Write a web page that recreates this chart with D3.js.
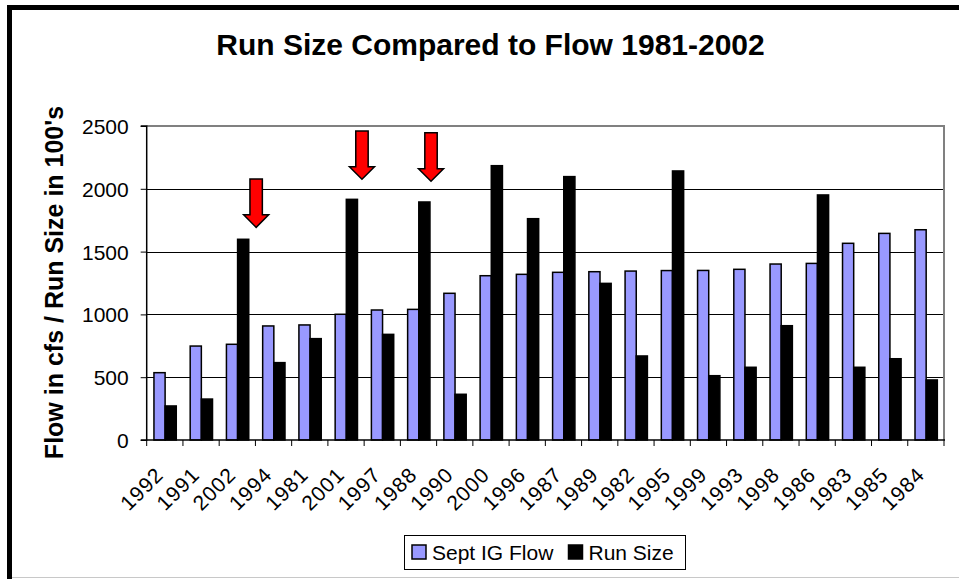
<!DOCTYPE html>
<html><head><meta charset="utf-8">
<script src="https://cdn.jsdelivr.net/npm/d3@7"></script>
<style>html,body{margin:0;padding:0;background:#fff;}svg{display:block;font-family:"Liberation Sans",Arial,sans-serif;}</style>
</head><body>
<svg id="chart" width="959" height="579"></svg>
<script>
const categories = ["1992","1991","2002","1994","1981","2001","1997","1988","1990","2000","1996","1987","1989","1982","1995","1999","1993","1998","1986","1983","1985","1984"];
const flowValues = [536,748,762,908,916,1001,1035,1040,1168,1308,1319,1335,1340,1345,1349,1350,1359,1401,1406,1566,1645,1674];
const runValues  = [271,326,1598,616,807,1916,841,1895,364,2184,1762,2097,1247,669,2142,512,579,910,1951,579,647,478];
const seriesNames = ["Sept IG Flow","Run Size"];
const yTicks = [0,500,1000,1500,2000,2500];
const arrowCats = ["2002","2001","1988"];
const arrowTips = [1693,2076,2060];
const arrowTops = [2078,2460,2446];
const arrowPos = [1.02,0.94,0.845];

const W = 959, H = 579;
const svg = d3.select("#chart");
const m = {l:146.7, r:944, t:126, b:440};
const colors = {"Sept IG Flow":"#9999FF","Run Size":"#000000"};

// frame
svg.append("rect").attr("x",0).attr("y",0).attr("width",W).attr("height",H).attr("fill","#fff");
svg.append("line").attr("x1",12).attr("x2",W).attr("y1",577.5).attr("y2",577.5).attr("stroke","#c8c8c8").attr("stroke-width",1);
svg.append("rect").attr("x",7).attr("y",5).attr("width",5).attr("height",H-5).attr("fill","#000");
svg.append("rect").attr("x",7).attr("y",5).attr("width",W-7).attr("height",5).attr("fill","#000");

const x = d3.scaleBand().domain(categories).range([m.l, m.r]).padding(0);
const bw = x.bandwidth();
const xs = d3.scaleBand().domain(seriesNames).range([bw*0.2, bw*0.816]).padding(0);
const y = d3.scaleLinear().domain([0,2500]).range([m.b, m.t]);

// gridlines
svg.append("g").selectAll("line").data(yTicks.filter(d=>d>0 && d<2500)).join("line")
  .attr("x1",m.l).attr("x2",m.r).attr("y1",d=>Math.round(y(d))+0.5).attr("y2",d=>Math.round(y(d))+0.5)
  .attr("stroke","#000").attr("stroke-width",1);
// plot border top/right grey
svg.append("path").attr("d",`M${m.l},${y(2500)}H${m.r}V${m.b}`).attr("fill","none").attr("stroke","#808080").attr("stroke-width",2);

// bars
const data = categories.map((c,i)=>({c, vals:[{s:"Sept IG Flow",v:flowValues[i]},{s:"Run Size",v:runValues[i]}]}));
const g = svg.append("g").selectAll("g").data(data).join("g").attr("transform",d=>`translate(${x(d.c)},0)`);
g.selectAll("rect").data(d=>d.vals).join("rect")
  .attr("x",d=>xs(d.s)).attr("width",xs.bandwidth())
  .attr("y",d=>y(d.v)).attr("height",d=>y(0)-y(d.v))
  .attr("fill",d=>colors[d.s]).attr("stroke","#000").attr("stroke-width",1.5);

// axes
const yAxis = d3.axisLeft(y).tickValues(yTicks).tickSize(6).tickPadding(12).tickFormat(d3.format("d"));
const ya = svg.append("g").attr("transform",`translate(${m.l},0)`).call(yAxis);
ya.select(".domain").attr("stroke","#000").attr("stroke-width",1.5).attr("d",`M-6,${y(2500)}H0V${m.b}H-6`);
ya.selectAll(".tick line").attr("stroke","#000");
ya.selectAll("text").attr("font-size",21).attr("fill","#000").attr("font-family","Liberation Sans, Arial").attr("dy","0.36em");

const xa = svg.append("g").attr("transform",`translate(0,${m.b})`);
xa.append("line").attr("x1",m.l).attr("x2",m.r+1).attr("y1",0).attr("y2",0).attr("stroke","#000").attr("stroke-width",1.5);
xa.selectAll("line.tk").data(categories.concat(["__end"])).join("line").attr("class","tk")
  .attr("x1",(d,i)=>m.l+i*bw).attr("x2",(d,i)=>m.l+i*bw).attr("y1",0).attr("y2",6).attr("stroke","#000").attr("stroke-width",1);
xa.selectAll("text").data(categories).join("text")
  .attr("transform",d=>`translate(${x(d)+bw/2},${36}) rotate(-45)`)
  .attr("text-anchor","end").attr("font-size",21).attr("letter-spacing","1px").attr("fill","#000")
  .text(d=>d);

// arrows
const arrows = arrowCats.map((c,i)=>({c, tip:arrowTips[i], top:arrowTops[i], f:arrowPos[i]}));
svg.append("g").selectAll("path").data(arrows).join("path")
  .attr("d",d=>{
    const cx = x(d.c)+bw*d.f, ty=y(d.tip), tt=y(d.top);
    const sw=6.2, hw=12.5, hh=12.5;
    return d3.line()([[cx-sw,tt],[cx+sw,tt],[cx+sw,ty-hh],[cx+hw,ty-hh],[cx,ty],[cx-hw,ty-hh],[cx-sw,ty-hh]])+"Z";
  })
  .attr("fill","#FF0000").attr("stroke","#000").attr("stroke-width",1.5).attr("stroke-linejoin","miter");

// title
svg.append("text").attr("x",490.5).attr("y",55).attr("text-anchor","middle")
  .attr("font-size",30).attr("font-weight","bold").text("Run Size Compared to Flow 1981-2002");
// y label
svg.append("text").attr("transform","translate(63,282.5) rotate(-90)").attr("text-anchor","middle")
  .attr("font-size",25).attr("font-weight","bold").text("Flow in cfs / Run Size in 100's");

// legend
const lg = svg.append("g");
lg.append("rect").attr("x",404.5).attr("y",535.5).attr("width",281).attr("height",34).attr("fill","#fff").attr("stroke","#000").attr("stroke-width",1);
const legX = [412, 568.5];
const li = lg.selectAll("g").data(seriesNames).join("g").attr("transform",(d,i)=>`translate(${legX[i]},545)`);
li.append("rect").attr("width",14).attr("height",14).attr("fill",d=>colors[d]).attr("stroke","#000").attr("stroke-width",1.5);
li.append("text").attr("x",20).attr("y",14.5).attr("font-size",21).text(d=>d);
</script>
</body></html>
